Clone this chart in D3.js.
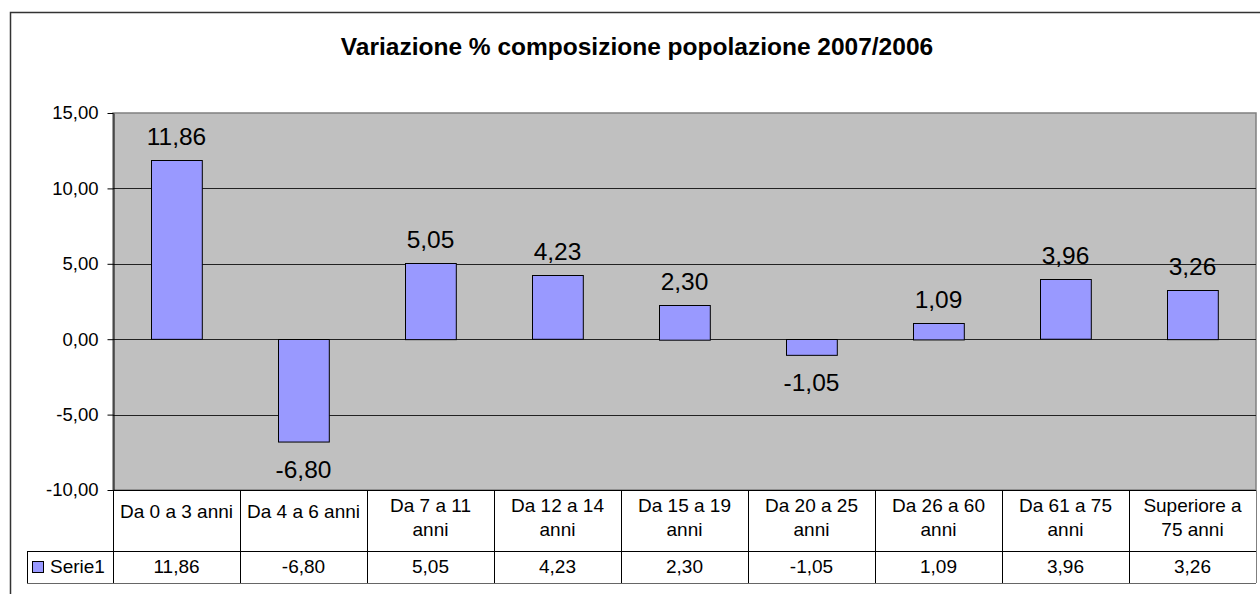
<!DOCTYPE html>
<head>
<style>
  body { margin: 0; background: #fff; }
  svg { font-family: "Liberation Sans", Arial, sans-serif; }
</style>
</head>
<body>
<svg width="1260" height="594"></svg>
<script src="https://d3js.org/d3.v7.min.js"></script>
<script>

// "\n" marks where the table cell wraps, as in the original
var categories = ["Da 0 a 3 anni", "Da 4 a 6 anni", "Da 7 a 11\nanni", "Da 12 a 14\nanni",
                  "Da 15 a 19\nanni", "Da 20 a 25\nanni", "Da 26 a 60\nanni", "Da 61 a 75\nanni",
                  "Superiore a\n75 anni"];
var seriesName = "Serie1";
var values = [11.86, -6.80, 5.05, 4.23, 2.30, -1.05, 1.09, 3.96, 3.26];
var yTicks = [-10, -5, 0, 5, 10, 15];
var title = "Variazione % composizione popolazione 2007/2006";

var svg = d3.select("svg");

var plot = { left: 113, right: 1256, top: 113, bottom: 490 };
var rowHead = 551, rowEnd = 583, legendLeft = 27;

var it = d3.formatLocale({ decimal: ",", thousands: ".", grouping: [3], currency: ["€", ""], minus: "-" });
var fmt = it.format(".2f");

var x = d3.scaleBand()
    .domain(categories)
    .range([plot.left, plot.right])
    .padding(0);

var y = d3.scaleLinear()
    .domain([-10, 15])
    .range([plot.bottom, plot.top]);

// outer frame
svg.append("rect")
    .attr("x", 10.5).attr("y", 12.5)
    .attr("width", 1300).attr("height", 700)
    .attr("fill", "#fff")
    .attr("stroke", "#333")
    .attr("stroke-width", 1.5);

// title
svg.append("text")
    .attr("x", 637).attr("y", 55)
    .attr("text-anchor", "middle")
    .attr("font-size", "24.5px")
    .attr("font-weight", "bold")
    .text(title);

// plot area
svg.append("rect")
    .attr("x", plot.left).attr("y", plot.top)
    .attr("width", plot.right - plot.left)
    .attr("height", plot.bottom - plot.top)
    .attr("fill", "#c0c0c0")
    .attr("stroke", "#808080")
    .attr("stroke-width", 1.5);

// gridlines
svg.append("g")
  .selectAll("line")
  .data(yTicks.filter(function(d) { return d > -10 && d < 15; }))
  .enter().append("line")
    .attr("x1", plot.left).attr("x2", plot.right)
    .attr("y1", function(d) { return Math.round(y(d)) + 0.5; })
    .attr("y2", function(d) { return Math.round(y(d)) + 0.5; })
    .attr("stroke", "#222");

// y axis
var yAxis = svg.append("g")
    .attr("transform", "translate(" + (plot.left + 0.5) + ",0)")
    .call(d3.axisLeft(y).tickValues(yTicks).tickFormat(fmt).tickSize(6).tickSizeOuter(0));
yAxis.select(".domain").attr("stroke", "#000");
yAxis.selectAll(".tick line").attr("stroke", "#000");
yAxis.selectAll(".tick text")
    .attr("font-family", "Liberation Sans, Arial, sans-serif")
    .attr("font-size", "18.5px")
    .attr("fill", "#000")
    .attr("x", -15);

// bars
var bw = x.bandwidth() * 0.4;
svg.append("g")
  .selectAll("rect")
  .data(values)
  .enter().append("rect")
    .attr("x", function(d, i) { return Math.round(x(categories[i]) + (x.bandwidth() - bw) / 2) + 0.5; })
    .attr("y", function(d) { return Math.round(y(Math.max(0, d))) + 0.5; })
    .attr("width", bw)
    .attr("height", function(d) { return Math.abs(y(d) - y(0)); })
    .attr("fill", "#9999ff")
    .attr("stroke", "#000")
    .attr("stroke-width", 1);

// data labels
svg.append("g")
  .selectAll("text")
  .data(values)
  .enter().append("text")
    .attr("x", function(d, i) { return x(categories[i]) + x.bandwidth() / 2; })
    .attr("y", function(d) { return d >= 0 ? y(d) - 15 : y(d) + 36; })
    .attr("text-anchor", "middle")
    .attr("font-size", "24.5px")
    .text(function(d) { return fmt(d); });

// data table
var table = svg.append("g").attr("stroke", "#000").attr("stroke-width", 1);
table.append("line")
    .attr("x1", plot.left).attr("x2", plot.right)
    .attr("y1", plot.bottom + 0.5).attr("y2", plot.bottom + 0.5);
table.append("line")
    .attr("x1", legendLeft).attr("x2", plot.right)
    .attr("y1", rowHead + 0.5).attr("y2", rowHead + 0.5);
table.append("line")
    .attr("x1", legendLeft).attr("x2", plot.right)
    .attr("y1", rowEnd + 0.5).attr("y2", rowEnd + 0.5)
    .attr("stroke", "#666");
table.append("line")
    .attr("x1", legendLeft + 0.5).attr("x2", legendLeft + 0.5)
    .attr("y1", rowHead).attr("y2", rowEnd);
table.selectAll("line.col")
  .data(categories)
  .enter().append("line")
    .attr("class", "col")
    .attr("x1", function(d) { return Math.round(x(d)) + 0.5; })
    .attr("x2", function(d) { return Math.round(x(d)) + 0.5; })
    .attr("y1", plot.bottom).attr("y2", rowEnd);
table.append("line")
    .attr("x1", plot.right + 0.5).attr("x2", plot.right + 0.5)
    .attr("y1", plot.bottom).attr("y2", rowEnd)
    .attr("stroke", "#808080");

// category labels
svg.append("g")
  .selectAll("text")
  .data(categories)
  .enter().append("text")
    .attr("text-anchor", "middle")
    .attr("font-size", "19px")
    .each(function(d) {
      var t = d3.select(this);
      var lines = d.split("\n");
      var cx = x(d) + x.bandwidth() / 2;
      var first = lines.length > 1 ? 512 : 518;
      lines.forEach(function(l, i) {
        t.append("tspan")
            .attr("x", cx)
            .attr("y", first + i * 24)
            .text(l);
      });
    });

// values row
svg.append("g")
  .selectAll("text")
  .data(values)
  .enter().append("text")
    .attr("x", function(d, i) { return x(categories[i]) + x.bandwidth() / 2; })
    .attr("y", 573)
    .attr("text-anchor", "middle")
    .attr("font-size", "19px")
    .text(function(d) { return fmt(d); });

// legend key
svg.append("rect")
    .attr("x", 32.5).attr("y", 561.5)
    .attr("width", 11).attr("height", 11)
    .attr("fill", "#9999ff")
    .attr("stroke", "#000");
svg.append("text")
    .attr("x", 50).attr("y", 573)
    .attr("font-size", "19px")
    .text(seriesName);

</script>
</body>
